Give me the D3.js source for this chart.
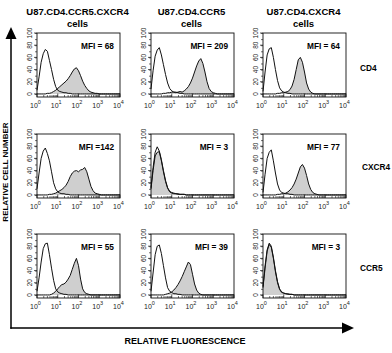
<!DOCTYPE html>
<html><head><meta charset="utf-8">
<script src="https://cdn.jsdelivr.net/npm/d3@7"></script>
<style>body{margin:0;background:#fff}svg{display:block}</style>
</head><body>
<script>
// ---- DATA ----
const colTitles = ["U87.CD4.CCR5.CXCR4", "U87.CD4.CCR5", "U87.CD4.CXCR4"];
const rowLabels = ["CD4", "CXCR4", "CCR5"];
const mfiLabels = [
  ["MFI = 68", "MFI = 209", "MFI = 64"],
  ["MFI =142", "MFI = 3", "MFI = 77"],
  ["MFI = 55", "MFI = 39", "MFI = 3"]
];
const yTicks = [0, 20, 40, 60, 80, 100];
const xDecades = [0, 1, 2, 3, 4];
// histogram bins: log10 fluorescence 0.0 .. 4.0 by 0.1
const binExp = d3.range(41).map(i => i / 10);

// control (open) histograms, row-major [row][col]
const ctrl_r1c1 = [6,28,52,66,73,70,55,40,24,12,6,4,3,2,2,1,1,0,0,0,0,0,0,0,0,0,0,0,0,0,0,0,0,0,0,0,0,0,0,0,0];
const ctrl_r1c2 = [8,38,62,72,76,64,48,32,18,9,5,3,3,2,1,1,0,0,0,0,0,0,0,0,0,0,0,0,0,0,0,0,0,0,0,0,0,0,0,0,0];
const ctrl_r1c3 = [4,36,64,74,76,60,40,22,10,5,3,2,1,1,0,0,0,0,0,0,0,0,0,0,0,0,0,0,0,0,0,0,0,0,0,0,0,0,0,0,0];
const ctrl_r2c1 = [10,36,60,72,77,68,56,38,20,10,5,3,2,2,1,1,0,0,0,0,0,0,0,0,0,0,0,0,0,0,0,0,0,0,0,0,0,0,0,0,0];
const ctrl_r2c2 = [12,45,70,79,72,58,40,24,12,6,4,3,2,2,1,1,1,0,0,0,0,0,0,0,0,0,0,0,0,0,0,0,0,0,0,0,0,0,0,0,0];
const ctrl_r2c3 = [4,34,60,70,74,56,36,18,8,4,3,2,2,1,1,0,0,0,0,0,0,0,0,0,0,0,0,0,0,0,0,0,0,0,0,0,0,0,0,0,0];
const ctrl_r3c1 = [6,28,54,76,84,85,66,44,24,10,5,3,2,1,1,0,0,0,0,0,0,0,0,0,0,0,0,0,0,0,0,0,0,0,0,0,0,0,0,0,0];
const ctrl_r3c2 = [6,36,66,80,82,68,48,28,12,6,4,2,2,1,1,0,0,0,0,0,0,0,0,0,0,0,0,0,0,0,0,0,0,0,0,0,0,0,0,0,0];
const ctrl_r3c3 = [14,48,74,85,80,62,40,22,10,5,3,2,2,1,1,0,0,0,0,0,0,0,0,0,0,0,0,0,0,0,0,0,0,0,0,0,0,0,0,0,0];

// stained (filled) histograms
const stain_r1c1 = [0,0,0,0,0,1,1,2,4,6,9,12,15,18,21,25,30,36,41,43,38,30,21,14,9,5,3,2,1,1,0,0,0,0,0,0,0,0,0,0,0];
const stain_r1c2 = [0,0,0,0,0,0,1,1,2,2,3,3,2,3,4,3,5,8,12,18,26,36,46,54,58,50,36,20,9,4,2,1,0,0,0,0,0,0,0,0,0];
const stain_r1c3 = [0,0,0,0,0,0,0,1,1,2,2,3,4,7,13,24,40,56,60,52,36,18,8,3,1,0,0,0,0,0,0,0,0,0,0,0,0,0,0,0,0];
const stain_r2c1 = [0,0,0,0,0,0,1,1,2,3,5,7,9,12,16,22,30,36,39,40,38,41,42,45,38,26,14,7,3,2,1,0,0,0,0,0,0,0,0,0,0];
const stain_r2c2 = [10,40,64,70,71,56,38,22,11,5,3,2,2,1,1,1,1,0,0,0,0,0,0,0,0,0,0,0,0,0,0,0,0,0,0,0,0,0,0,0,0];
const stain_r2c3 = [0,0,0,0,0,0,0,1,1,2,2,3,5,8,12,18,26,36,46,50,44,32,18,9,4,2,1,0,0,0,0,0,0,0,0,0,0,0,0,0,0];
const stain_r3c1 = [0,0,0,0,0,0,0,1,3,6,10,14,17,18,21,26,32,42,52,60,48,26,10,4,2,1,0,0,0,0,0,0,0,0,0,0,0,0,0,0,0];
const stain_r3c2 = [0,0,0,0,0,0,0,1,2,3,5,8,12,17,23,30,38,46,54,50,34,18,8,3,1,0,0,0,0,0,0,0,0,0,0,0,0,0,0,0,0];
const stain_r3c3 = [12,44,72,83,78,60,38,20,9,4,3,2,1,1,1,0,0,0,0,0,0,0,0,0,0,0,0,0,0,0,0,0,0,0,0,0,0,0,0,0,0];

const ctrlGrid = [[ctrl_r1c1, ctrl_r1c2, ctrl_r1c3],[ctrl_r2c1, ctrl_r2c2, ctrl_r2c3],[ctrl_r3c1, ctrl_r3c2, ctrl_r3c3]];
const stainGrid = [[stain_r1c1, stain_r1c2, stain_r1c3],[stain_r2c1, stain_r2c2, stain_r2c3],[stain_r3c1, stain_r3c2, stain_r3c3]];

// ---- LAYOUT ----
const W = 392, H = 353;
const panelLeft = [37, 151, 263], panelTop = [33, 134, 234];
const pw = 83, ph = 64;
const FONT = "'Liberation Sans', Arial, Helvetica, sans-serif";

const svg = d3.select("body").append("svg").attr("width", W).attr("height", H)
  .style("font-family", FONT);

const x = d3.scaleLog().domain([1, 10000]).range([0, pw]);
const y = d3.scaleLinear().domain([-5, 100]).range([ph, 0]);

// column titles
colTitles.forEach((t, c) => {
  const cx = panelLeft[c] + pw / 2 - 1;
  svg.append("text").attr("x", cx).attr("y", 15).attr("text-anchor", "middle")
    .attr("font-size", 9.5).attr("font-weight", "bold").text(t);
  svg.append("text").attr("x", cx).attr("y", 27).attr("text-anchor", "middle")
    .attr("font-size", 9.5).attr("font-weight", "bold").text("cells");
});

// row labels
const rowLabelX = [360, 362, 360], rowLabelY = [71, 170, 271];
rowLabels.forEach((t, r) => {
  svg.append("text").attr("x", rowLabelX[r]).attr("y", rowLabelY[r])
    .attr("font-size", 8.3).attr("font-weight", "bold").text(t);
});

const line = d3.line().x((d, i) => x(Math.pow(10, binExp[i]))).y(d => y(d));
const area = d3.area().x((d, i) => x(Math.pow(10, binExp[i]))).y0(y(0)).y1(d => y(d));

for (let r = 0; r < 3; r++) {
  for (let c = 0; c < 3; c++) {
    const g = svg.append("g").attr("transform", `translate(${panelLeft[c]},${panelTop[r]})`);
    // stained (filled)
    g.append("path").datum(stainGrid[r][c]).attr("d", area)
      .attr("fill", "#cfcfcf").attr("stroke", "none");
    g.append("path").datum(stainGrid[r][c]).attr("d", line)
      .attr("fill", "none").attr("stroke", "#111").attr("stroke-width", 1);
    // control (open)
    g.append("path").datum(ctrlGrid[r][c]).attr("d", line)
      .attr("fill", "none").attr("stroke", "#111").attr("stroke-width", 1);
    // frame
    g.append("rect").attr("x", 0).attr("y", 0).attr("width", pw).attr("height", ph)
      .attr("fill", "none").attr("stroke", "#111").attr("stroke-width", 0.9);

    // y axis minor ticks
    const yAxis = d3.axisLeft(y).tickValues(d3.range(0, 101, 10)).tickSize(2).tickFormat("");
    const ya = g.append("g").call(yAxis);
    ya.select(".domain").remove();
    ya.selectAll("line").attr("stroke", "#111").attr("stroke-width", 0.6);
    yTicks.forEach(v => {
      g.append("line").attr("x1", -3).attr("x2", 0).attr("y1", y(v)).attr("y2", y(v))
        .attr("stroke", "#111").attr("stroke-width", 0.7);
      g.append("text").attr("transform", `translate(-5,${y(v)}) rotate(-90)`)
        .attr("text-anchor", "middle").attr("font-size", 6.5).attr("fill", "#222").text(v);
    });

    // x axis minor ticks
    const minor = [];
    for (let d = 0; d < 4; d++) for (let k = 2; k <= 9; k++) minor.push(k * Math.pow(10, d));
    const xa = g.append("g").attr("transform", `translate(0,${ph})`)
      .call(d3.axisBottom(x).tickValues(minor).tickSize(-2).tickFormat(""));
    xa.select(".domain").remove();
    xa.selectAll("line").attr("stroke", "#111").attr("stroke-width", 0.6);
    xDecades.forEach(e => {
      const xx = x(Math.pow(10, e));
      g.append("line").attr("x1", xx).attr("x2", xx).attr("y1", ph).attr("y2", ph - 3.5)
        .attr("stroke", "#111").attr("stroke-width", 0.7);
      const t = g.append("text").attr("x", xx - 1.5).attr("y", ph + 10.5)
        .attr("text-anchor", "middle").attr("font-size", 7).attr("fill", "#222");
      t.append("tspan").text("10");
      t.append("tspan").attr("dy", -3.5).attr("font-size", 5.5).text(e);
    });

    // MFI label
    g.append("text").attr("x", pw - 6).attr("y", 15.5).attr("text-anchor", "end")
      .attr("font-size", 8.3).attr("font-weight", "bold").text(mfiLabels[r][c]);
  }
}

// big arrows
svg.append("line").attr("x1", 11).attr("x2", 11).attr("y1", 328.7).attr("y2", 36)
  .attr("stroke", "#000").attr("stroke-width", 1.5);
svg.append("path").attr("d", "M11,27 L5.5,39 L16.5,39 Z").attr("fill", "#000");
svg.append("line").attr("x1", 10.3).attr("x2", 345).attr("y1", 328).attr("y2", 328)
  .attr("stroke", "#000").attr("stroke-width", 1.5);
svg.append("path").attr("d", "M354,328 L342,322.5 L342,333.5 Z").attr("fill", "#000");

svg.append("text").attr("x", 185).attr("y", 344).attr("text-anchor", "middle")
  .attr("font-size", 9).attr("font-weight", "bold").text("RELATIVE FLUORESCENCE");
svg.append("text").attr("transform", "translate(7.5,172) rotate(-90)").attr("text-anchor", "middle")
  .attr("font-size", 8).attr("font-weight", "bold").text("RELATIVE CELL NUMBER");
</script>
</body></html>
